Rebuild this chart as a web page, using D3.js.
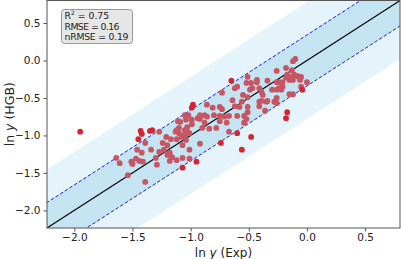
<!DOCTYPE html>
<html><head><meta charset="utf-8">
<script src="https://cdn.jsdelivr.net/npm/d3@7/dist/d3.min.js"></script>
<style>html,body{margin:0;padding:0;background:#fff;}svg{display:block;font-family:"DejaVu Sans",sans-serif;}</style>
</head><body>
<svg id="c" width="401" height="259"></svg>
<script>
const expVals = [-1.95,-1.43,-1.42,-1.45,-1.35,-1.33,-1.27,-1.39,-1.34,-1.46,-1.42,-1.47,-1.44,-1.41,-1.51,-1.50,-1.64,-1.61,-1.30,-1.29,-1.54,-1.39,-1.20,-1.18,-1.23,-1.27,-1.20,-1.24,-1.17,-1.21,-1.12,-1.08,-1.05,-1.10,-1.04,-1.07,-1.01,-1.10,-1.11,-1.12,-1.05,-1.03,-0.99,-1.09,-1.02,-0.98,-0.99,-0.86,-0.81,-0.75,-0.73,-0.62,-0.58,-0.51,-0.41,-0.35,-0.28,-0.92,-0.88,-0.86,-0.80,-0.75,-0.71,-0.67,-0.60,-0.54,-0.51,-0.52,-0.54,-0.69,-0.75,-0.88,-0.92,-0.90,-0.84,-0.78,-0.67,-0.60,-0.48,-0.36,-0.17,-0.18,-0.74,-0.56,-0.92,-1.01,-0.95,-1.07,-1.01,-1.07,-1.12,-1.18,-1.16,-0.10,-0.12,-0.26,-0.18,-0.13,-0.17,-0.13,-0.11,-0.08,-0.05,-0.18,-0.15,-0.12,-0.06,0.00,-0.21,-0.24,-0.26,-0.34,-0.43,-0.48,-0.65,-0.51,-0.43,-0.21,-0.24,-0.30,-0.26,-0.22,-0.41,-0.47,-0.39,-0.05,-0.04,-0.38,-0.26,-0.15,-0.12,-0.39,-0.26,-0.62,-0.60,-0.73,-0.49,-0.51,-0.64,-0.56,-0.52,-0.55,-1.05,-1.04,-0.99,-0.94,-1.03,-1.13,-0.41,-0.34];
const hgbVals = [-0.95,-0.94,-0.98,-1.05,-0.94,-0.93,-0.95,-1.10,-1.19,-1.19,-1.23,-1.31,-1.34,-1.35,-1.35,-1.38,-1.30,-1.37,-1.30,-1.39,-1.53,-1.62,-1.26,-1.23,-1.19,-1.22,-1.13,-1.10,-1.05,-1.02,-1.05,-1.02,-0.99,-0.97,-1.06,-1.13,-0.97,-0.90,-0.81,-0.93,-0.93,-0.89,-0.85,-0.82,-0.73,-0.59,-0.63,-0.59,-0.63,-0.62,-0.65,-0.61,-0.62,-0.62,-0.55,-0.55,-0.55,-0.73,-0.73,-0.75,-0.73,-0.74,-0.75,-0.74,-0.74,-0.74,-0.69,-0.78,-0.83,-0.83,-0.81,-0.83,-0.78,-0.90,-0.91,-0.90,-0.95,-0.97,-1.02,-0.67,-0.69,-0.77,-1.10,-1.19,-1.11,-1.19,-1.35,-1.43,-1.31,-1.30,-1.33,-1.34,-1.29,0.02,-0.01,-0.14,-0.10,-0.13,-0.19,-0.22,-0.19,-0.21,-0.22,-0.23,-0.26,-0.26,-0.26,-0.29,-0.29,-0.29,-0.29,-0.27,-0.29,-0.30,-0.27,-0.22,-0.26,-0.35,-0.37,-0.39,-0.39,-0.39,-0.37,-0.37,-0.42,-0.35,-0.39,-0.46,-0.50,-0.45,-0.45,-0.54,-0.57,-0.37,-0.35,-0.43,-0.39,-0.49,-0.53,-0.55,-0.30,-0.46,-0.73,-0.79,-0.79,-0.77,-0.95,-0.95,-0.61,-0.54];
const xTicks = [-2.0,-1.5,-1.0,-0.5,0.0,0.5];
const yTicks = [-2.0,-1.5,-1.0,-0.5,0.0,0.5];
const statLines = [["R","2"," = 0.75"],["RMSE = 0.16"],["nRMSE = 0.19"]];
const innerBand = 0.34, outerBand = 0.78;
const domainLo = -2.235, domainHi = 0.80;

const svg = d3.select("#c");
const L = 47, R = 400, T = 0.5, B = 228;
const x = d3.scaleLinear().domain([domainLo, domainHi]).range([L, R]);
const y = d3.scaleLinear().domain([domainLo, domainHi]).range([B, T]);

svg.append("defs").append("clipPath").attr("id","clip")
  .append("rect").attr("x",L).attr("y",T).attr("width",R-L).attr("height",B-T);
const g = svg.append("g").attr("clip-path","url(#clip)");

const ext = [domainLo-1, domainHi+1];
function band(off){
  return [[ext[0], ext[0]-off],[ext[1], ext[1]-off],[ext[1], ext[1]+off],[ext[0], ext[0]+off]]
    .map(p=>[x(p[0]),y(p[1])]);
}
const line = d3.line();
g.append("path").attr("d", line(band(outerBand))+"Z").attr("fill","#e5f4fa");
g.append("path").attr("d", line(band(innerBand))+"Z").attr("fill","#c4e4f1");
[innerBand,-innerBand].forEach(o=>{
  g.append("path").attr("d", line([[x(ext[0]),y(ext[0]+o)],[x(ext[1]),y(ext[1]+o)]]))
   .attr("stroke","#1f1fd0").attr("stroke-width",1).attr("stroke-dasharray","3.5,2").attr("fill","none");
});
g.append("path").attr("d", line([[x(ext[0]),y(ext[0])],[x(ext[1]),y(ext[1])]]))
  .attr("stroke","#000").attr("stroke-width",1.1).attr("fill","none");

const pts = expVals.map((v,i)=>({e:v,h:hgbVals[i]}));
g.selectAll("circle").data(pts).enter().append("circle")
  .attr("cx",d=>x(d.e)).attr("cy",d=>y(d.h)).attr("r",2.9)
  .attr("fill",d=>Math.abs(d.h-d.e)>innerBand ? "#d42632" : "#c75563");

// frame
svg.append("rect").attr("x",L).attr("y",T).attr("width",R-L).attr("height",B-T)
  .attr("fill","none").attr("stroke","#555").attr("stroke-width",1);

const fmt = d3.format(".1f");
const xa = svg.append("g").attr("transform",`translate(0,${B})`)
  .call(d3.axisBottom(x).tickValues(xTicks).tickFormat(fmt).tickSizeOuter(0).tickSize(3.5).tickPadding(2));
const ya = svg.append("g").attr("transform",`translate(${L},0)`)
  .call(d3.axisLeft(y).tickValues(yTicks).tickFormat(fmt).tickSizeOuter(0).tickSize(3.5).tickPadding(3));
[xa,ya].forEach(a=>{
  a.select(".domain").remove();
  a.selectAll(".tick line").attr("stroke","#555");
  a.selectAll("text").attr("font-size","10.5px").attr("fill","#222").attr("font-family","DejaVu Sans");
});

// axis labels
const xl = svg.append("text").attr("x",(L+R)/2).attr("y",256.5).attr("text-anchor","middle")
  .attr("font-size","12px").attr("fill","#222");
xl.append("tspan").text("ln ");
xl.append("tspan").attr("font-style","italic").text("y");
xl.append("tspan").text(" (Exp)");
const yl = svg.append("text").attr("transform",`translate(14,${(T+B)/2}) rotate(-90)`).attr("text-anchor","middle")
  .attr("font-size","12.5px").attr("fill","#222");
yl.append("tspan").text("ln ");
yl.append("tspan").attr("font-style","italic").text("y");
yl.append("tspan").text(" (HGB)");

// stats box
svg.append("rect").attr("x",61.5).attr("y",9.5).attr("width",71).attr("height",34).attr("rx",3)
  .attr("fill","#e6e6e6").attr("stroke","#999").attr("stroke-width",1);
statLines.forEach((parts,i)=>{
  const t = svg.append("text").attr("x",64.5).attr("y",18.8+i*10.8).attr("font-size","9.3px").attr("fill","#222")
    .attr("textLength", parts.length===3 ? null : (i===1 ? 55 : 64));
  if(parts.length===3){
    t.append("tspan").text(parts[0]);
    t.append("tspan").attr("font-size","6px").attr("dy",-3.5).text(parts[1]);
    t.append("tspan").attr("dy",3.5).text(parts[2]);
  } else t.text(parts[0]);
});
</script>
</body></html>
